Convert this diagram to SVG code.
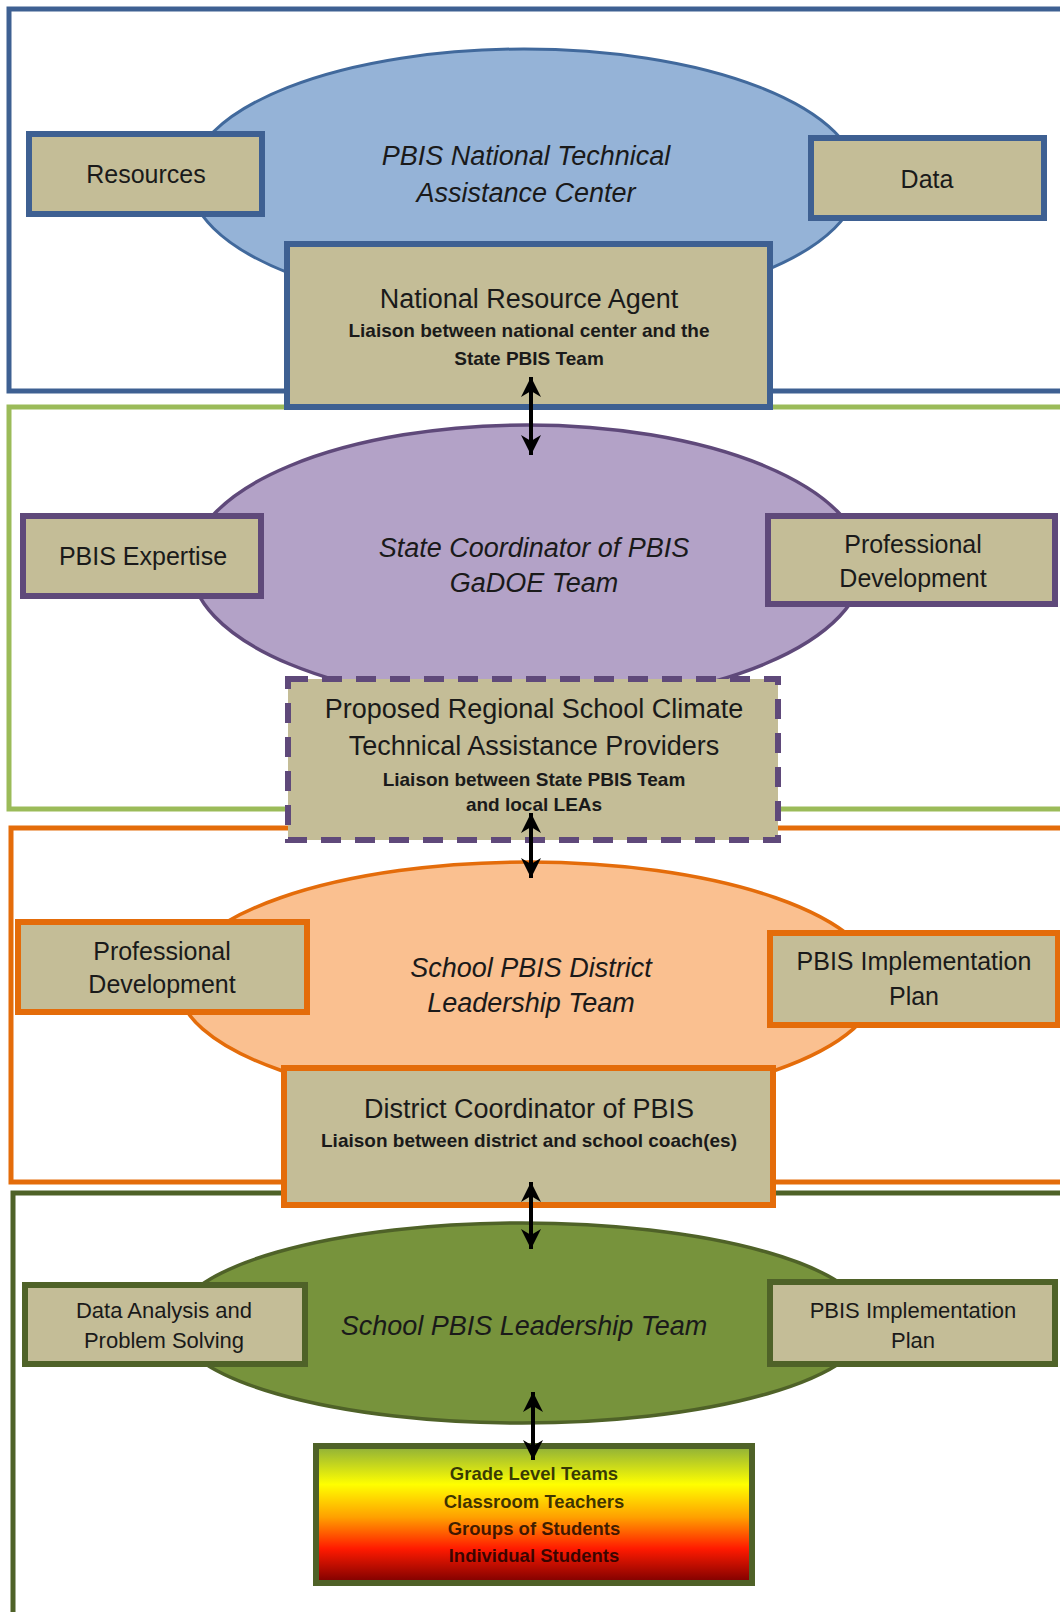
<svg xmlns="http://www.w3.org/2000/svg" width="1060" height="1612" viewBox="0 0 1060 1612">
<defs>
<linearGradient id="levels" x1="0" y1="0" x2="0" y2="1">
<stop offset="0" stop-color="#8DAF3A"/>
<stop offset="0.28" stop-color="#FFFF00"/>
<stop offset="0.52" stop-color="#FFA000"/>
<stop offset="0.75" stop-color="#FF1A00"/>
<stop offset="1" stop-color="#7A0000"/>
</linearGradient>
<marker id="ah" viewBox="0 0 22 22" markerUnits="userSpaceOnUse" markerWidth="22" markerHeight="22" refX="20" refY="11" orient="auto-start-reverse">
<path d="M0,1 L20,11 L0,21 L6,11 Z" fill="#000"/>
</marker>
</defs>
<style>
text{font-family:"Liberation Sans",Arial,sans-serif;fill:#1a1a1a;text-anchor:middle}
.frame{fill:none;stroke-width:5}
.box{fill:#C4BD97;stroke-width:6}
.lbl{font-size:25px}
.lbs{font-size:22px}
.ttl{font-size:27px;font-style:italic}
.hd{font-size:27px}
.sub{font-size:19px;font-weight:bold}
.lvl{font-size:18.5px;font-weight:bold;fill:#000;fill-opacity:0.75}
.conn{stroke:#000;stroke-width:4;fill:none}
</style>
<rect width="1060" height="1612" fill="#fff"/>

<g id="frames">
<rect class="frame" x="9" y="9" width="1080" height="382" stroke="#3E6092"/>
<rect class="frame" x="9" y="407" width="1080" height="402" stroke="#9BBB59"/>
<rect class="frame" x="11" y="828" width="1080" height="354" stroke="#E46C0A"/>
<rect class="frame" x="13" y="1193" width="1080" height="500" stroke="#4F6228"/>
</g>

<g id="national-center">
<ellipse cx="524" cy="180" rx="334" ry="131" fill="#95B3D7" stroke="#41699C" stroke-width="3"/>
<text class="ttl" x="526" y="165">PBIS National Technical</text>
<text class="ttl" x="526" y="202">Assistance Center</text>
</g>
<g id="resources">
<rect class="box" x="29" y="134" width="233" height="80" stroke="#3E6092"/>
<text class="lbl" x="146" y="183">Resources</text>
</g>
<g id="data">
<rect class="box" x="811" y="138" width="233" height="80" stroke="#3E6092"/>
<text class="lbl" x="927" y="188">Data</text>
</g>
<g id="national-resource-agent">
<rect class="box" x="287" y="244" width="483" height="163" stroke="#3E6092"/>
<text class="hd" x="529" y="308">National Resource Agent</text>
<text class="sub" x="529" y="337">Liaison between national center and the</text>
<text class="sub" x="529" y="365">State PBIS Team</text>
</g>

<g id="state-coordinator">
<ellipse cx="527" cy="565" rx="336" ry="140" fill="#B3A2C7" stroke="#5F497A" stroke-width="3.5"/>
<text class="ttl" x="534" y="557">State Coordinator of PBIS</text>
<text class="ttl" x="534" y="592">GaDOE Team</text>
</g>
<g id="pbis-expertise">
<rect class="box" x="23" y="516" width="238" height="80" stroke="#5F497A"/>
<text class="lbl" x="143" y="565">PBIS Expertise</text>
</g>
<g id="prof-dev-state">
<rect class="box" x="768" y="516" width="287" height="88" stroke="#5F497A"/>
<text class="lbl" x="913" y="553">Professional</text>
<text class="lbl" x="913" y="587">Development</text>
</g>
<g id="regional-providers">
<rect class="box" x="288" y="679" width="490" height="161" stroke="#5F497A" stroke-dasharray="20 14"/>
<text class="hd" x="534" y="718">Proposed Regional School Climate</text>
<text class="hd" x="534" y="755">Technical Assistance Providers</text>
<text class="sub" x="534" y="786">Liaison between State PBIS Team</text>
<text class="sub" x="534" y="811">and local LEAs</text>
</g>

<g id="district-team">
<ellipse cx="528" cy="984" rx="350" ry="122" fill="#FAC090" stroke="#E46C0A" stroke-width="3.5"/>
<text class="ttl" x="531" y="977">School PBIS District</text>
<text class="ttl" x="531" y="1012">Leadership Team</text>
</g>
<g id="prof-dev-district">
<rect class="box" x="18" y="922" width="289" height="90" stroke="#E46C0A"/>
<text class="lbl" x="162" y="960">Professional</text>
<text class="lbl" x="162" y="993">Development</text>
</g>
<g id="impl-plan-district">
<rect class="box" x="770" y="933" width="288" height="92" stroke="#E46C0A"/>
<text class="lbl" x="914" y="970">PBIS Implementation</text>
<text class="lbl" x="914" y="1005">Plan</text>
</g>
<g id="district-coordinator">
<rect class="box" x="284" y="1068" width="489" height="137" stroke="#E46C0A"/>
<text class="hd" x="529" y="1118">District Coordinator of PBIS</text>
<text class="sub" x="529" y="1147">Liaison between district and school coach(es)</text>
</g>

<g id="school-team">
<ellipse cx="522" cy="1323" rx="347" ry="100" fill="#77933C" stroke="#4F6228" stroke-width="3.5"/>
<text class="ttl" x="524" y="1335">School PBIS Leadership Team</text>
</g>
<g id="data-analysis">
<rect class="box" x="25" y="1285" width="280" height="79" stroke="#4F6228"/>
<text class="lbs" x="164" y="1318">Data Analysis and</text>
<text class="lbs" x="164" y="1348">Problem Solving</text>
</g>
<g id="impl-plan-school">
<rect class="box" x="770" y="1282" width="285" height="82" stroke="#4F6228"/>
<text class="lbs" x="913" y="1318">PBIS Implementation</text>
<text class="lbs" x="913" y="1348">Plan</text>
</g>
<g id="levels-box">
<rect x="316" y="1446" width="436" height="137" fill="url(#levels)" stroke="#4F6228" stroke-width="6"/>
<text class="lvl" x="534" y="1480">Grade Level Teams</text>
<text class="lvl" x="534" y="1508">Classroom Teachers</text>
<text class="lvl" x="534" y="1535">Groups of Students</text>
<text class="lvl" x="534" y="1562">Individual Students</text>
</g>

<g id="connectors">
<line class="conn" x1="531" y1="377" x2="531" y2="455" marker-start="url(#ah)" marker-end="url(#ah)"/>
<line class="conn" x1="531" y1="813" x2="531" y2="878" marker-start="url(#ah)" marker-end="url(#ah)"/>
<line class="conn" x1="531" y1="1182" x2="531" y2="1249" marker-start="url(#ah)" marker-end="url(#ah)"/>
<line class="conn" x1="533" y1="1392" x2="533" y2="1460" marker-start="url(#ah)" marker-end="url(#ah)"/>
</g>
</svg>
